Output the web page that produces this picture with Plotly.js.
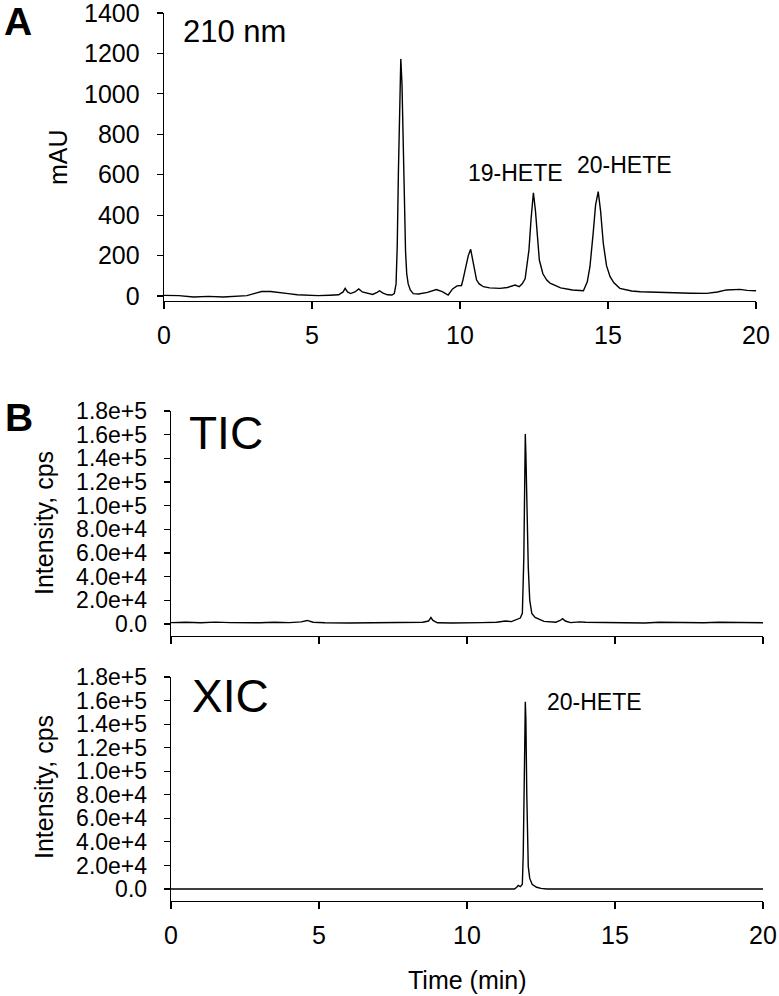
<!DOCTYPE html>
<html>
<head>
<meta charset="utf-8">
<script src="https://cdn.plot.ly/plotly-3.0.1.min.js"></script>
<style>html,body{margin:0;padding:0;background:#fff;}#chart{width:779px;height:996px;}</style>
</head>
<body>
<div id="chart"></div>
<script>
// Panel A: UV chromatogram at 210 nm (time in min, absorbance in mAU)
const uvTime = [0, 0.5, 1.0, 1.5, 2.0, 2.5, 2.8, 3.1, 3.3, 3.6, 3.9, 4.2, 4.5, 4.8, 5.2, 5.6, 5.9, 6.05, 6.12, 6.2, 6.3, 6.45, 6.58, 6.7, 6.9, 7.05, 7.2, 7.28, 7.4, 7.55, 7.7, 7.78, 7.84, 7.88, 7.92, 7.96, 8.0, 8.04, 8.08, 8.12, 8.16, 8.2, 8.25, 8.32, 8.42, 8.6, 8.9, 9.2, 9.4, 9.6, 9.75, 9.9, 10.05, 10.1, 10.2, 10.28, 10.36, 10.44, 10.5, 10.56, 10.65, 10.79, 11.0, 11.35, 11.6, 11.75, 11.86, 12.0, 12.1, 12.2, 12.33, 12.4, 12.48, 12.55, 12.62, 12.68, 12.8, 12.93, 13.04, 13.4, 13.8, 14.17, 14.3, 14.39, 14.5, 14.58, 14.67, 14.75, 14.84, 14.95, 15.07, 15.2, 15.4, 15.8, 16.1, 16.6, 17.2, 17.8, 18.33, 18.7, 19.0, 19.46, 19.7, 20.0];
const uvMAU = [3, 2, -5, -2, -5, -1, 2, 14, 22, 22, 18, 12, 6, 3, 2, 4, 6, 20, 38, 20, 12, 20, 35, 20, 15, 8, 18, 26, 14, 6, 5, 12, 60, 250, 620, 1000, 1173, 1050, 720, 420, 220, 110, 60, 30, 12, 10, 18, 32, 22, 5, 35, 50, 52, 80, 145, 200, 231, 170, 115, 79, 60, 46, 40, 38, 42, 48, 54, 46, 60, 85, 228, 380, 511, 420, 280, 178, 110, 79, 64, 40, 30, 26, 70, 145, 312, 450, 516, 420, 262, 150, 96, 65, 38, 25, 21, 18, 16, 14, 13, 20, 30, 33, 28, 26];

// Panel B (top): total ion chromatogram (cps)
const ticTime = [0, 0.5, 1.0, 1.5, 2.0, 2.5, 3.0, 3.5, 4.0, 4.4, 4.6, 4.8, 5.2, 6.0, 6.5, 7.0, 7.5, 8.0, 8.5, 8.7, 8.78, 8.85, 9.0, 9.5, 10.0, 10.5, 11.0, 11.3, 11.5, 11.7, 11.8, 11.87, 11.9, 11.92, 11.95, 11.97, 11.99, 12.03, 12.07, 12.12, 12.19, 12.3, 12.45, 12.6, 13.0, 13.15, 13.23, 13.32, 13.5, 13.8, 14.0, 14.5, 15.0, 15.5, 16.0, 16.5, 17.0, 17.5, 18.0, 18.5, 19.0, 19.5, 20.0];
const ticCps = [1200, 1500, 1000, 1600, 1200, 800, 1000, 1500, 1200, 1800, 3000, 1500, 1000, 800, 1000, 1200, 1000, 1400, 1500, 2500, 5500, 3000, 1000, 800, 800, 1200, 1500, 2500, 2000, 4000, 5000, 9000, 30000, 56000, 120000, 160500, 143000, 95000, 48000, 20000, 9000, 5500, 3500, 2200, 1500, 3000, 4500, 2500, 1200, 1800, 1500, 1300, 1500, 1000, 800, 1500, 1300, 1200, 1000, 1500, 1200, 900, 1000];

// Panel B (bottom): extracted ion chromatogram (cps)
const xicTime = [0, 11.6, 11.68, 11.73, 11.8, 11.87, 11.9, 11.92, 11.95, 11.97, 11.99, 12.02, 12.05, 12.07, 12.12, 12.2, 12.35, 12.5, 12.7, 20.0];
const xicCps = [0, 0, 1500, 3000, 2000, 4000, 30000, 54000, 120000, 159000, 143000, 80000, 35000, 19000, 9000, 4000, 1500, 500, 0, 0];

const xTicks = [0, 5, 10, 15, 20];
const uvTicks = [0, 200, 400, 600, 800, 1000, 1200, 1400];
const msTickVals = [0, 20000, 40000, 60000, 80000, 100000, 120000, 140000, 160000, 180000];
const msTickText = ["0.0", "2.0e+4", "4.0e+4", "6.0e+4", "8.0e+4", "1.0e+5", "1.2e+5", "1.4e+5", "1.6e+5", "1.8e+5"];

const W = 779, H = 996;
const FONT = "Liberation Sans, Arial, Helvetica, sans-serif";
const px = v => v / W;
const py = v => 1 - v / H;

const line = {color: "#000", width: 1.4};
const traces = [
  {x: uvTime, y: uvMAU, type: "scatter", mode: "lines", line: line, xaxis: "x", yaxis: "y", hoverinfo: "none"},
  {x: ticTime, y: ticCps, type: "scatter", mode: "lines", line: line, xaxis: "x2", yaxis: "y2", hoverinfo: "none"},
  {x: xicTime, y: xicCps, type: "scatter", mode: "lines", line: line, xaxis: "x3", yaxis: "y3", hoverinfo: "none"}
];

function xax(domain, anchor, showLabels) {
  return {
    domain: domain, anchor: anchor, range: [0, 20],
    tickvals: xTicks, ticktext: xTicks.map(String),
    showticklabels: showLabels,
    ticks: "outside", ticklen: 7, tickwidth: 1.2, tickcolor: "#000",
    showline: true, linecolor: "#000", linewidth: 1.3,
    showgrid: false, zeroline: false,
    tickfont: {family: FONT, size: 25, color: "#000"},
    ticklabelstandoff: 5,
    ticklabeloverflow: "allow",
    fixedrange: true
  };
}
function yax(domain, anchor, range, vals, text, size, standoff) {
  return {
    domain: domain, anchor: anchor, range: range,
    tickvals: vals, ticktext: text,
    ticks: "outside", ticklen: 6, tickwidth: 1.2, tickcolor: "#000",
    showline: true, linecolor: "#000", linewidth: 1.3,
    showgrid: false, zeroline: false,
    tickfont: {family: FONT, size: size, color: "#000"},
    ticklabelstandoff: standoff,
    ticklabeloverflow: "allow",
    fixedrange: true
  };
}

const layout = {
  width: W, height: H,
  margin: {l: 0, r: 0, t: 0, b: 0},
  paper_bgcolor: "#fff", plot_bgcolor: "#fff",
  showlegend: false,
  xaxis: xax([px(164), px(756)], "y", true),
  yaxis: yax([py(301), py(13)], "x", [-24.7, 1400], uvTicks, uvTicks.map(String), 25, 12),
  xaxis2: xax([px(171), px(763)], "y2", false),
  yaxis2: yax([py(636), py(411)], "x2", [-10141, 180000], msTickVals, msTickText, 23, 12),
  xaxis3: xax([px(171), px(763)], "y3", true),
  yaxis3: yax([py(901), py(677)], "x3", [-10189, 180000], msTickVals, msTickText, 23, 12),
  annotations: [
    {text: "<b>A</b>", x: px(17.5), y: py(21), font: {family: FONT, size: 39, color: "#000"}},
    {text: "<b>B</b>", x: px(19), y: py(417), font: {family: FONT, size: 39, color: "#000"}},
    {text: "210 nm", x: px(234), y: py(32), font: {family: FONT, size: 31, color: "#000"}},
    {text: "TIC", x: px(226.5), y: py(433), font: {family: FONT, size: 46, color: "#000"}},
    {text: "XIC", x: px(230.5), y: py(696), font: {family: FONT, size: 46, color: "#000"}},
    {text: "19-HETE", x: px(515.5), y: py(173), font: {family: FONT, size: 23, color: "#000"}},
    {text: "20-HETE", x: px(624.5), y: py(165), font: {family: FONT, size: 23, color: "#000"}},
    {text: "20-HETE", x: px(594.5), y: py(702), font: {family: FONT, size: 23, color: "#000"}},
    {text: "mAU", x: px(58), y: py(157), textangle: -90, font: {family: FONT, size: 25, color: "#000"}},
    {text: "Intensity, cps", x: px(44), y: py(523), textangle: -90, font: {family: FONT, size: 25, color: "#000"}},
    {text: "Intensity, cps", x: px(44), y: py(787), textangle: -90, font: {family: FONT, size: 25, color: "#000"}},
    {text: "Time (min)", x: px(467.5), y: py(980), font: {family: FONT, size: 25, color: "#000"}}
  ].map(a => Object.assign({xref: "paper", yref: "paper", xanchor: "center", yanchor: "middle", showarrow: false}, a))
};

Plotly.newPlot("chart", traces, layout, {displayModeBar: false, staticPlot: true});
</script>
</body>
</html>
